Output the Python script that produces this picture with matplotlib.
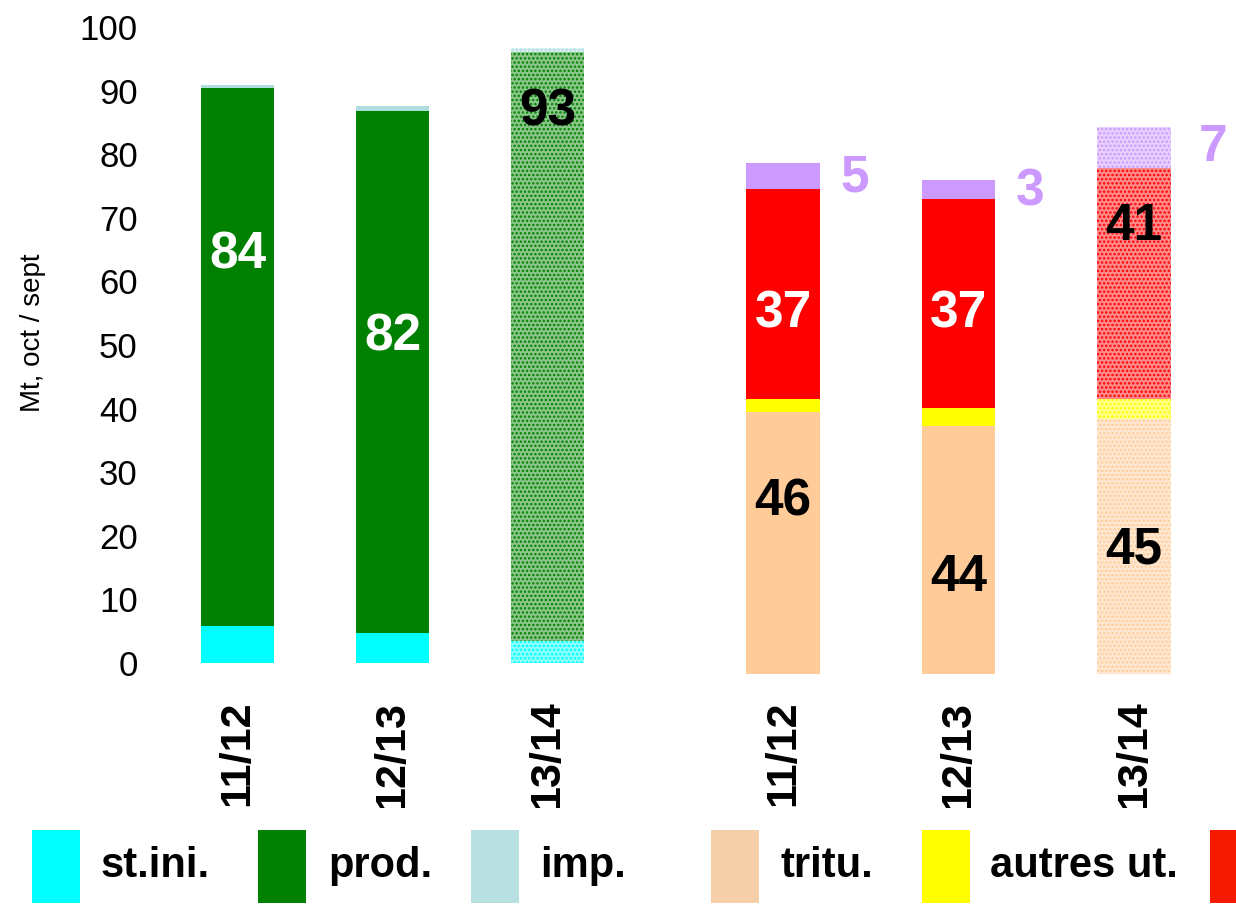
# Bilan offre / demande (Mt, oct/sept) — barres empilées, deux blocs
import matplotlib
matplotlib.use("Agg")
import matplotlib.pyplot as plt
import matplotlib.font_manager as fm
from matplotlib.patches import Rectangle
from matplotlib.colors import to_rgb

_names = {f.name for f in fm.fontManager.ttflist}
NARROW = "Liberation Sans Narrow" in _names
FN = "Liberation Sans Narrow" if NARROW else "Liberation Sans"
plt.rcParams["font.family"] = ["Liberation Sans", "DejaVu Sans"]

campagnes = ["11/12", "12/13", "13/14"]
prevision = [False, False, True]

# ressources
st_ini = [5.8, 4.7, 3.5]
prod = [84.6, 82.1, 92.6]
imp = [0.5, 0.8, 0.6]
# emplois
tritu = [46.0, 43.6, 44.8]
autres = [2.3, 3.2, 3.5]
export = [36.9, 36.7, 40.6]
st_fin = [4.6, 3.3, 7.2]

lab_res = ["84", "82", "93"]
lab_tritu = ["46", "44", "45"]
lab_exp = ["37", "37", "41"]
lab_fin = ["5", "3", "7"]

# la dernière entrée (rouge) est coupée par le bord : pas de texte visible
leg_noms = ["st.ini.", "prod.", "imp.", "tritu.", "autres ut.", ""]
leg_cols = ["#00FFFF", "#008000", "#B8E0E0", "#F5CFA8", "#FFFF00", "#F51B00"]

C_INI, C_PROD, C_IMP = "#00FFFF", "#008000", "#B0DEDE"
C_TRI, C_AUT, C_EXP, C_FIN = "#FFCC99", "#FFFF00", "#FF0000", "#CC99FF"

W, H = 1236, 905
fig = plt.figure(figsize=(W / 100, H / 100), dpi=100)
plt.rcParams["hatch.linewidth"] = 1.2

def box(x0, x1, y0, y1):
    return [x0 / W, 1 - y1 / H, (x1 - x0) / W, (y1 - y0) / H]

axL = fig.add_axes(box(160, 625, 27, 675.7))
axR = fig.add_axes(box(695.25, 1221.75, 27, 675.7))

def light(c, f):
    r, g, b = to_rgb(c)
    return (r + (1 - r) * f, g + (1 - g) * f, b + (1 - b) * f)

def stack(ax, series, cols, width):
    bottom = [0.0] * len(campagnes)
    for vals, c in zip(series, cols):
        for i, v in enumerate(vals):
            if prevision[i]:
                ax.bar(i, v, width, bottom=bottom[i], facecolor=light(c, 0.55),
                       edgecolor=c, hatch="....", lw=0)
            else:
                ax.bar(i, v, width, bottom=bottom[i], color=c, lw=0)
            bottom[i] += v

stack(axL, [st_ini, prod, imp], [C_INI, C_PROD, C_IMP], 0.47)
stack(axR, [tritu, autres, export, st_fin], [C_TRI, C_AUT, C_EXP, C_FIN], 0.42)

axL.set_ylim(-2, 100)
axR.set_ylim(-0.3, 113.7)
for ax in (axL, axR):
    ax.set_xlim(-0.5, 2.5)
    for s in ax.spines.values():
        s.set_visible(False)
    ax.set_xticks(range(3))
    ax.set_xticklabels(campagnes, rotation=90, fontsize=31, fontweight="bold",
                       va="top")
    ax.tick_params(axis="x", length=0, pad=18)
axL.set_yticks(range(0, 101, 10))
axL.tick_params(axis="y", length=0, pad=16, labelsize=25)
axR.set_yticks([])

bsz = 41 if NARROW else 37
lk = dict(ha="center", va="center", fontsize=bsz, fontweight="bold", family=FN)
for i, (t, y, c) in enumerate(zip(lab_res, [64.2, 51.3, 86.6], ["white", "white", "black"])):
    axL.text(i, y, t, color=c, **lk)
for i, (t, y) in enumerate(zip(lab_tritu, [30.2, 16.9, 21.8])):
    axR.text(i, y, t, color="black", **lk)
for i, (t, y, c) in enumerate(zip(lab_exp, [63.3, 63.3, 78.7], ["white", "white", "black"])):
    axR.text(i, y, t, color=c, **lk)
for i, (t, y, dx) in enumerate(zip(lab_fin, [87.2, 84.7, 92.6], [0.41, 0.41, 0.45])):
    axR.text(i + dx, y, t, color=C_FIN, **lk)

fig.text(33 / W, 1 - 333 / H, "Mt, oct / sept", rotation=90, ha="center",
         va="center", fontsize=20)

# bandeau légende (masque le bas des étiquettes d'axe)
fig.add_artist(Rectangle((0, 0), 1, 1 - 808 / H, transform=fig.transFigure,
                         facecolor="white", edgecolor="none", zorder=5))
sw_x = [32, 258, 471, 711, 922, 1210]
tx_x = [100, 328, 540, 780, 990, 1280]
lsz = 35 if NARROW else 30
for n, c, sx, tx in zip(leg_noms, leg_cols, sw_x, tx_x):
    fig.add_artist(Rectangle((sx / W, 1 - 903 / H), 48 / W, 73 / H,
                             transform=fig.transFigure, facecolor=c,
                             edgecolor="none", zorder=6))
    if n:
        fig.text(tx / W, 1 - 866 / H, n, ha="left", va="center", fontsize=lsz,
                 fontweight="bold", family=FN, zorder=6)

fig.savefig("out.png", dpi=100)
